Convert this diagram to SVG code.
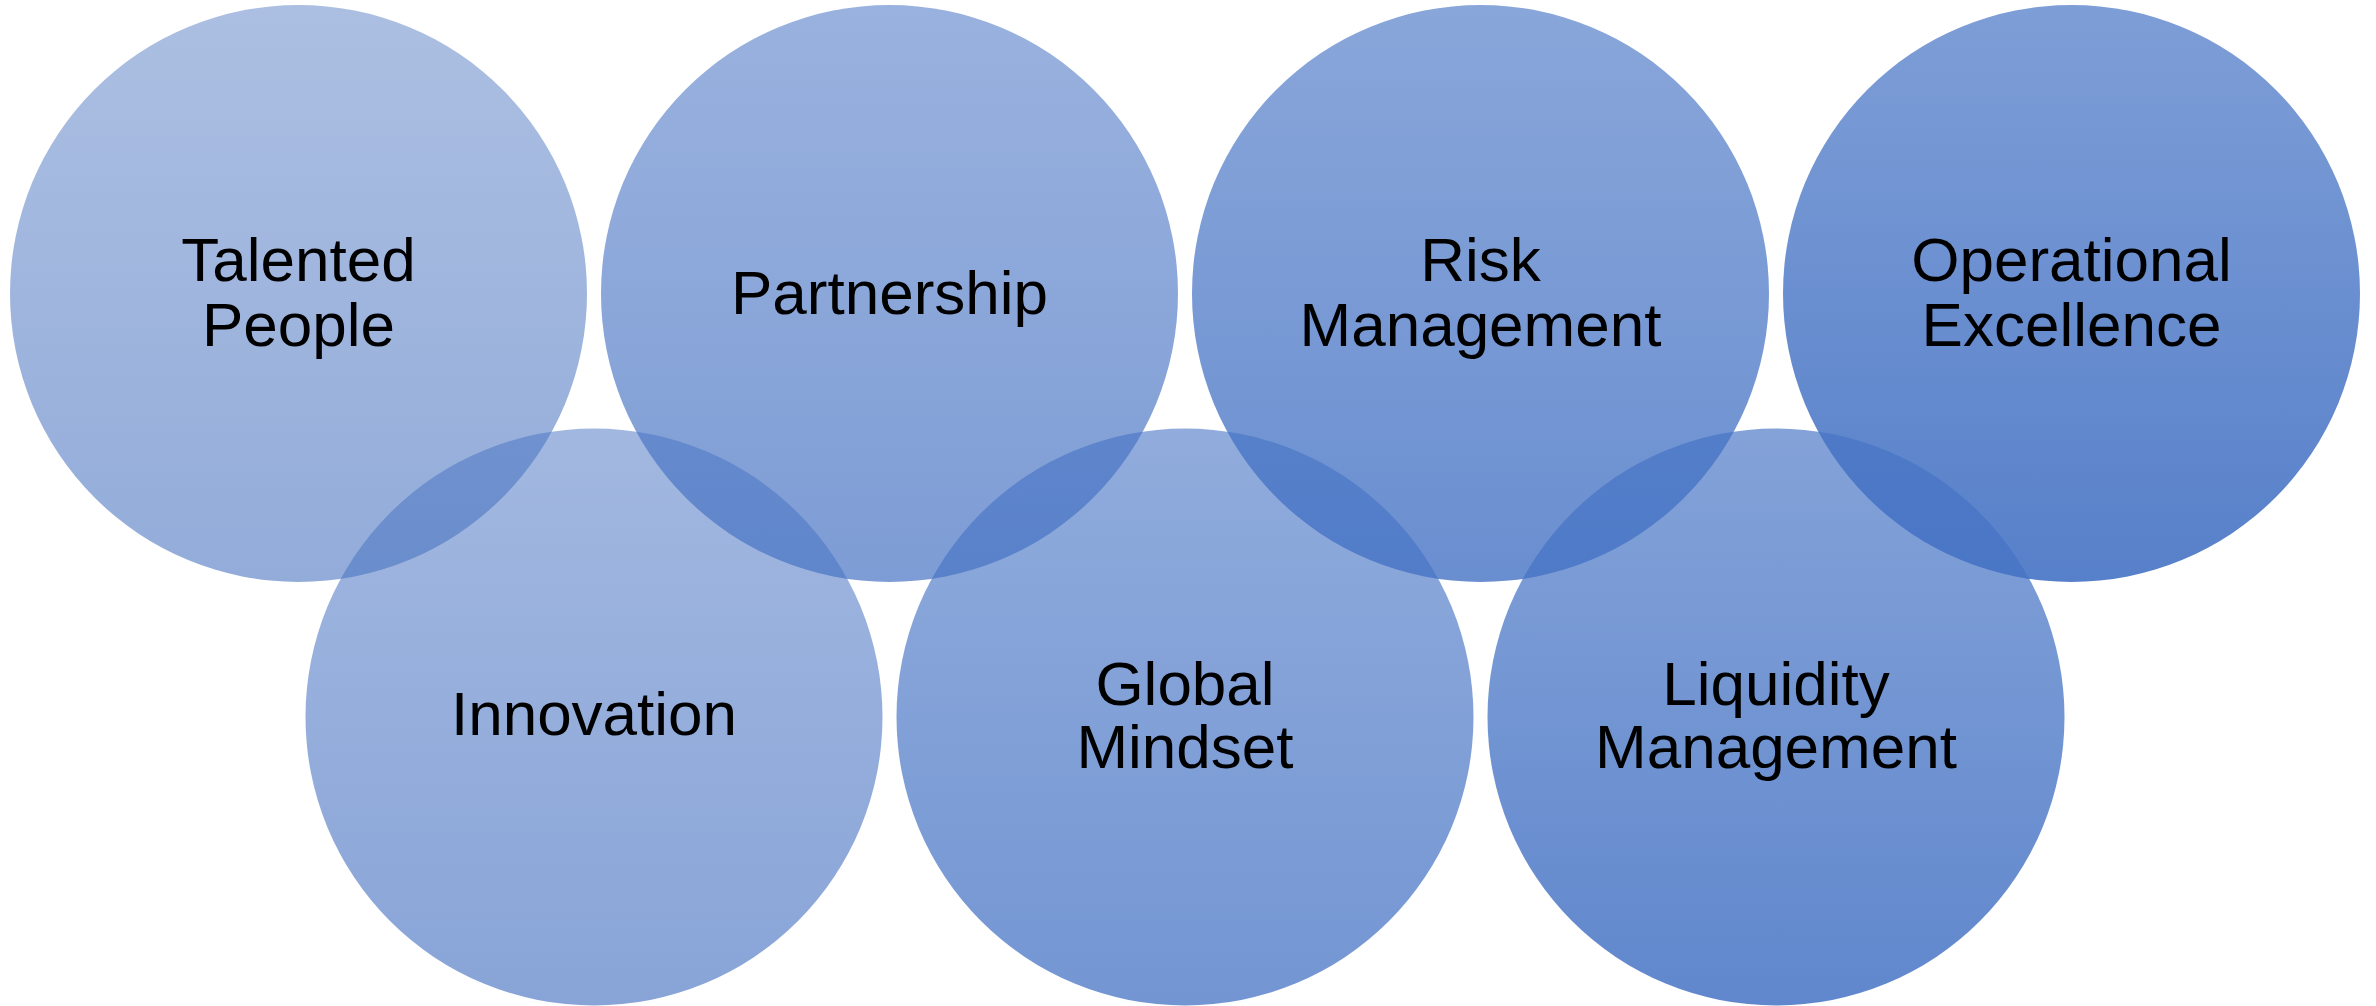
<svg xmlns="http://www.w3.org/2000/svg" width="2376" height="1006" viewBox="0 0 2376 1006">
  <defs>
    <!-- Vertical transparency ramps: one accent hue, each circle a little denser than the last -->
    <linearGradient id="g1" x1="0" y1="0" x2="0" y2="1">
      <stop offset="0" stop-color="#4A74C0" stop-opacity="0.46"/>
      <stop offset="1" stop-color="#4A74C0" stop-opacity="0.60"/>
    </linearGradient>
    <linearGradient id="g2" x1="0" y1="0" x2="0" y2="1">
      <stop offset="0" stop-color="#4873C2" stop-opacity="0.51"/>
      <stop offset="1" stop-color="#4873C2" stop-opacity="0.65"/>
    </linearGradient>
    <linearGradient id="g3" x1="0" y1="0" x2="0" y2="1">
      <stop offset="0" stop-color="#4672C3" stop-opacity="0.55"/>
      <stop offset="1" stop-color="#4672C3" stop-opacity="0.70"/>
    </linearGradient>
    <linearGradient id="g4" x1="0" y1="0" x2="0" y2="1">
      <stop offset="0" stop-color="#4472C4" stop-opacity="0.59"/>
      <stop offset="1" stop-color="#4472C4" stop-opacity="0.75"/>
    </linearGradient>
    <linearGradient id="g5" x1="0" y1="0" x2="0" y2="1">
      <stop offset="0" stop-color="#4472C4" stop-opacity="0.63"/>
      <stop offset="1" stop-color="#4472C4" stop-opacity="0.80"/>
    </linearGradient>
    <linearGradient id="g6" x1="0" y1="0" x2="0" y2="1">
      <stop offset="0" stop-color="#4472C4" stop-opacity="0.66"/>
      <stop offset="1" stop-color="#4472C4" stop-opacity="0.85"/>
    </linearGradient>
    <linearGradient id="g7" x1="0" y1="0" x2="0" y2="1">
      <stop offset="0" stop-color="#4472C4" stop-opacity="0.69"/>
      <stop offset="1" stop-color="#4472C4" stop-opacity="0.90"/>
    </linearGradient>
  </defs>
  <style>
    .label { font-family: "Liberation Sans", Arial, sans-serif; font-size: 62px; fill: #000000; text-anchor: middle; }
  </style>

  <rect x="0" y="0" width="2376" height="1006" fill="#FFFFFF"/>

  <!-- no connectors in this diagram -->
  <g id="connectors"></g>

  <g id="talented-people">
    <circle cx="298.5" cy="293.5" r="288.5" fill="url(#g1)"/>
    <text class="label" x="298.5" y="281">Talented</text>
    <text class="label" x="298.5" y="346">People</text>
  </g>

  <g id="innovation">
    <circle cx="594" cy="717" r="288.5" fill="url(#g2)"/>
    <text class="label" x="594" y="735">Innovation</text>
  </g>

  <g id="partnership">
    <circle cx="889.5" cy="293.5" r="288.5" fill="url(#g3)"/>
    <text class="label" x="889.5" y="314">Partnership</text>
  </g>

  <g id="global-mindset">
    <circle cx="1185" cy="717" r="288.5" fill="url(#g4)"/>
    <text class="label" x="1185" y="705">Global</text>
    <text class="label" x="1185" y="768">Mindset</text>
  </g>

  <g id="risk-management">
    <circle cx="1480.5" cy="293.5" r="288.5" fill="url(#g5)"/>
    <text class="label" x="1480.5" y="281">Risk</text>
    <text class="label" x="1480.5" y="346">Management</text>
  </g>

  <g id="liquidity-management">
    <circle cx="1776" cy="717" r="288.5" fill="url(#g6)"/>
    <text class="label" x="1776" y="705">Liquidity</text>
    <text class="label" x="1776" y="768">Management</text>
  </g>

  <g id="operational-excellence">
    <circle cx="2071.5" cy="293.5" r="288.5" fill="url(#g7)"/>
    <text class="label" x="2071.5" y="281">Operational</text>
    <text class="label" x="2071.5" y="346">Excellence</text>
  </g>
</svg>
